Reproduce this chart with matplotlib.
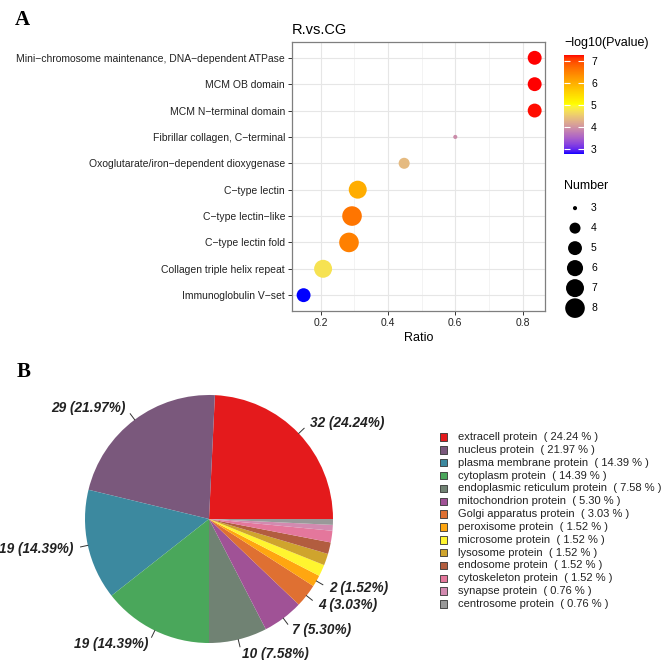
import matplotlib
matplotlib.use('Agg')
import matplotlib.pyplot as plt
from matplotlib.colors import LinearSegmentedColormap, Normalize
from matplotlib.ticker import MultipleLocator
import numpy as np

plt.rcParams['font.family'] = ['Liberation Sans', 'DejaVu Sans']

# ---- panel A data: domain enrichment bubble chart
terms = ['Mini\u2212chromosome maintenance, DNA\u2212dependent ATPase',
         'MCM OB domain',
         'MCM N\u2212terminal domain',
         'Fibrillar collagen, C\u2212terminal',
         'Oxoglutarate/iron\u2212dependent dioxygenase',
         'C\u2212type lectin',
         'C\u2212type lectin\u2212like',
         'C\u2212type lectin fold',
         'Collagen triple helix repeat',
         'Immunoglobulin V\u2212set']
ratio = [0.836, 0.836, 0.836, 0.600, 0.448, 0.310, 0.293, 0.284, 0.207, 0.149]
number = [5, 5, 5, 3, 4, 7, 8, 8, 7, 5]
logp = [7.26, 7.25, 7.24, 3.90, 4.35, 6.00, 6.60, 6.50, 4.75, 2.77]
size_breaks = [3, 4, 5, 6, 7, 8]
cbar_ticks = [3, 4, 5, 6, 7]

# ---- panel B data: subcellular location pie
locations = ['extracell protein', 'nucleus protein', 'plasma membrane protein',
             'cytoplasm protein', 'endoplasmic reticulum protein',
             'mitochondrion protein', 'Golgi apparatus protein',
             'peroxisome protein', 'microsome protein', 'lysosome protein',
             'endosome protein', 'cytoskeleton protein', 'synapse protein',
             'centrosome protein']
counts = [32, 29, 19, 19, 10, 7, 4, 2, 2, 2, 2, 2, 1, 1]
pie_colours = ['#E41A1C', '#7A587C', '#3C899F', '#4AA75B', '#708273', '#A05296',
               '#DF7032', '#FFA610', '#FFF52F', '#CFA42D', '#B25D3F', '#E4779C',
               '#D38AB0', '#999999']
n_labelled = 8


def to_lab(hexc):
    rgb = np.array(matplotlib.colors.to_rgb(hexc))
    c = np.where(rgb <= 0.04045, rgb / 12.92, ((rgb + 0.055) / 1.055) ** 2.4)
    M = np.array([[0.4124, 0.3576, 0.1805], [0.2126, 0.7152, 0.0722], [0.0193, 0.1192, 0.9505]])
    xyz = M @ c / np.array([0.95047, 1.0, 1.08883])
    f = np.where(xyz > 0.008856, np.cbrt(xyz), 7.787 * xyz + 16 / 116)
    return np.array([116 * f[1] - 16, 500 * (f[0] - f[1]), 200 * (f[1] - f[2])])


def from_lab(lab):
    fy = (lab[0] + 16) / 116
    fx = fy + lab[1] / 500
    fz = fy - lab[2] / 200
    f = np.array([fx, fy, fz])
    xyz = np.where(f ** 3 > 0.008856, f ** 3, (f - 16 / 116) / 7.787) * np.array([0.95047, 1.0, 1.08883])
    Minv = np.array([[3.2406, -1.5372, -0.4986], [-0.9689, 1.8758, 0.0415], [0.0557, -0.2040, 1.0570]])
    c = np.clip(Minv @ xyz, 0, 1)
    return np.clip(np.where(c <= 0.0031308, 12.92 * c, 1.055 * c ** (1 / 2.4) - 0.055), 0, 1)


# blue -> yellow -> red, interpolated in CIELAB like ggplot's gradientn
stops = [to_lab(c) for c in ['#0000FF', '#FFFF00', '#FF0000']]
ramp = []
for t in np.linspace(0, 1, 256):
    seg = min(int(t * 2), 1)
    u = t * 2 - seg
    ramp.append(from_lab(stops[seg] * (1 - u) + stops[seg + 1] * u))
cmap = LinearSegmentedColormap.from_list('byr', ramp)
norm = Normalize(vmin=min(logp), vmax=max(logp))


def dot_size(n):
    # ggplot-like area scale, range 1..6 mm, returned as scatter s (pt^2)
    nmin, nmax = min(number), max(number)
    d_px = 3.1 * (1 + 5 * np.sqrt((np.asarray(n) - nmin) / (nmax - nmin))) + 1.0
    return (d_px * 0.72) ** 2


fig = plt.figure(figsize=(6.61, 6.60), dpi=100)

# ---------------- panel A
ax = fig.add_axes([0.4418, 0.5288, 0.3828, 0.4076])
ypos = np.arange(len(terms))[::-1]
ax.scatter(ratio, ypos, s=dot_size(number), c=logp, cmap=cmap, norm=norm,
           linewidths=0, zorder=3)
span = max(ratio) - min(ratio)
ax.set_xlim(min(ratio) - 0.05 * span, max(ratio) + 0.045 * span)
ax.set_ylim(-0.6, len(terms) - 0.4)
ax.set_yticks(ypos)
ax.set_yticklabels(terms, fontsize=7.5, color='#222222')
ax.xaxis.set_major_locator(MultipleLocator(0.2))
ax.xaxis.set_minor_locator(MultipleLocator(0.1))
ax.tick_params(axis='x', labelsize=7.5, labelcolor='#222222')
ax.tick_params(which='major', length=3, width=0.7, color='#333333', pad=2)
ax.tick_params(which='minor', length=0)
ax.grid(which='major', color='#e6e6e6', lw=0.8, zorder=0)
ax.grid(which='minor', axis='x', color='#eeeeee', lw=0.5, zorder=0)
ax.set_axisbelow(True)
for sp in ax.spines.values():
    sp.set_color('#7f7f7f')
    sp.set_linewidth(0.9)
ax.set_xlabel('Ratio', fontsize=9, labelpad=3)
ax.set_title('R.vs.CG', fontsize=10.5, loc='left', pad=6)

fig.text(0.022, 0.985, 'A', fontsize=15, fontweight='bold', family='Liberation Serif', va='top')

# colorbar
cax = fig.add_axes([0.8533, 0.7667, 0.0303, 0.15])
cb = fig.colorbar(plt.cm.ScalarMappable(norm=norm, cmap=cmap), cax=cax, ticks=cbar_ticks)
cb.outline.set_visible(False)
cax.tick_params(direction='in', color='white', length=4, width=0.8,
                left=True, right=True, labelsize=7.5, pad=5)
fig.text(0.8533, 0.935, '\u2212log10(Pvalue)', fontsize=9, va='center')

# size legend
lax = fig.add_axes([0.8472, 0.518, 0.0908, 0.1818])
lax.set_xlim(0, 60)
lax.set_ylim(8.5, 2.5)
lax.axis('off')
lax.scatter([15] * len(size_breaks), size_breaks, s=dot_size(size_breaks), c='black', linewidths=0)
for b in size_breaks:
    lax.text(31, b, str(b), fontsize=7.5, va='center', ha='left')
fig.text(0.8533, 1 - 186 / 660, 'Number', fontsize=9, va='center')

# ---------------- panel B
fig.text(0.025, 1 - 372 / 660, 'B', fontsize=15, fontweight='bold', family='Liberation Serif', va='center')

pax = fig.add_axes([85 / 661, 1 - 643 / 660, 248 / 661, 248 / 660])
wedges, _ = pax.pie(counts, colors=pie_colours, startangle=0, counterclock=True,
                    wedgeprops=dict(linewidth=0))
pax.set_xlim(-1, 1)
pax.set_ylim(-1, 1)
total = sum(counts)
for i in range(n_labelled):
    w = wedges[i]
    ang = np.deg2rad((w.theta1 + w.theta2) / 2)
    cx, cy = np.cos(ang), np.sin(ang)
    pax.plot([cx, 1.06 * cx], [cy, 1.06 * cy], color='#333333', lw=0.7, clip_on=False)
    pax.text(1.12 * cx, 1.12 * cy, f'{counts[i]} ({counts[i] / total * 100:.2f}%)',
             ha='left' if cx > 0 else 'right', va='center', fontsize=9.8,
             fontweight='bold', fontstyle='italic', color='#222222', clip_on=False)

# pie legend
gax = fig.add_axes([435 / 661, 1 - 612 / 660, 226 / 661, 182 / 660])
gax.set_xlim(0, 226)
gax.set_ylim(612, 430)
gax.axis('off')
rows = 437 + np.arange(len(locations)) * 12.85
gax.scatter([8.7] * len(locations), rows, marker='s', s=(7.5 * 0.72) ** 2,
            c=pie_colours, edgecolors='#333333', linewidths=0.6)
for i, name in enumerate(locations):
    gax.text(23, rows[i], f'{name}  ( {counts[i] / total * 100:.2f} % )',
             fontsize=8, va='center', ha='left', color='#222222')

fig.savefig('out.png', dpi=100)
